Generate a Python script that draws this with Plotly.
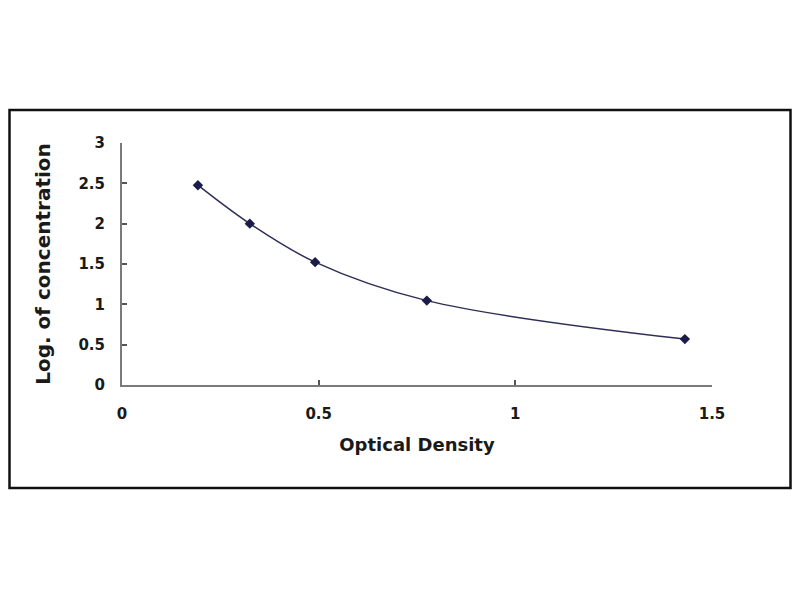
import plotly.graph_objects as go

optical_density = [0.193, 0.325, 0.491, 0.775, 1.431]
log_concentration = [2.477, 2.0, 1.523, 1.046, 0.569]
x_ticks = [0, 0.5, 1, 1.5]
y_ticks = [0, 0.5, 1, 1.5, 2, 2.5, 3]
x_tick_labels = ["0", "0.5", "1", "1.5"]
y_tick_labels = ["0", "0.5", "1", "1.5", "2", "2.5", "3"]

FONT = "DejaVu Sans"
OFF = 8  # page body margin offset

W, H = 784, 584
L = 122 - OFF
T = 143 - OFF
R = W - (712 - OFF)
B = H - (385 - OFF)
pw = W - L - R
ph = H - T - B

def fx(p):
    return (p - L) / pw

def fy(p):
    return (H - B - p) / ph

fig = go.Figure()
fig.add_trace(go.Scatter(
    x=optical_density, y=log_concentration,
    mode="lines+markers",
    line=dict(shape="spline", smoothing=1.0, color="#2e2e58", width=1.5),
    marker=dict(symbol="diamond", size=8, color="#1c1c4a"),
    showlegend=False,
))

fig.add_shape(type="rect", xref="paper", yref="paper",
              x0=fx(1.5), x1=fx(W - 1.5), y0=fy(488 - OFF), y1=fy(110 - OFF),
              line=dict(color="#111111", width=2.5), fillcolor="rgba(0,0,0,0)",
              layer="below")

axis_common = dict(
    showgrid=False, zeroline=False, showline=True,
    linecolor="#7a7a7a", linewidth=2,
    ticks="inside", ticklen=5, tickwidth=1.5, tickcolor="#555555",
    tickfont=dict(family=FONT, size=15, color="#1a1a1a", weight="bold"),
)

fig.update_xaxes(range=[0, 1.5], tickvals=x_ticks, ticktext=x_tick_labels,
                 ticklabelstandoff=14,
                 title=dict(text="<b>Optical Density</b>", standoff=16,
                            font=dict(family=FONT, size=18, color="#1a1a1a")),
                 **axis_common)
fig.update_yaxes(range=[0, 3], tickvals=y_ticks, ticktext=y_tick_labels,
                 ticklabelstandoff=12,
                 title=dict(text="<b>Log. of concentration</b>", standoff=22,
                            font=dict(family=FONT, size=20, color="#1a1a1a")),
                 **axis_common)

fig.update_layout(
    width=W, height=H,
    margin=dict(l=L, r=R, t=T, b=B, autoexpand=False),
    paper_bgcolor="white", plot_bgcolor="white",
)

fig.write_html("out.html")
